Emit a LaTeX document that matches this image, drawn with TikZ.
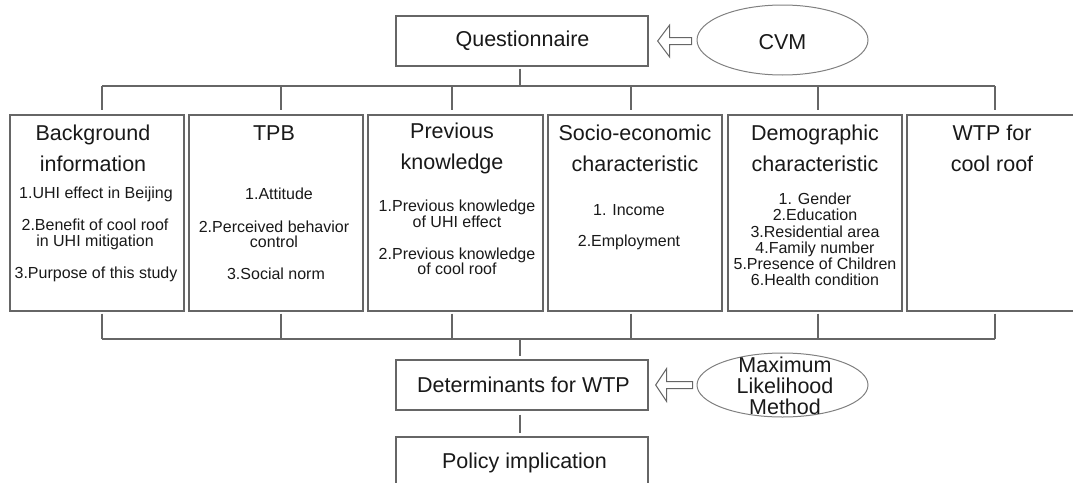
\documentclass[tikz,border=0pt]{standalone}
\usepackage{fontspec}
\setmainfont{Liberation Sans}
\usetikzlibrary{calc,shapes.geometric}
\definecolor{linegray}{gray}{0.40}
\definecolor{ovalgray}{gray}{0.50}
\definecolor{txt}{gray}{0.10}
\begin{document}
\begin{tikzpicture}[x=1pt,y=-1pt,
  frame/.style={draw=linegray, line width=1.3pt, fill=white, inner sep=0pt},
  oval/.style={ellipse, draw=ovalgray, line width=1pt, inner sep=0pt},
  bigtxt/.style={font=\fontsize{21.5}{31}\selectfont, align=center, text=txt, inner sep=0pt},
  lbl/.style={font=\fontsize{21.5}{24}\selectfont, align=center, text=txt, inner sep=0pt},
  smalltxt/.style={font=\fontsize{16}{15.5}\selectfont, align=center, text=txt, inner sep=0pt},
  wire/.style={draw=linegray, line width=1.3pt},
  hollow/.style={draw=linegray, line width=1pt, fill=white, line join=miter},
]
\useasboundingbox (0,0) rectangle (1073,482);

% top: questionnaire and CVM
\node[frame, minimum width=252pt, minimum height=50pt] (q) at (522,41) {};
\node[lbl] (qt) at (522.5,41) {Questionnaire};
\node[oval, minimum width=171pt, minimum height=70pt] (cvm) at (782.5,40) {};
\node[lbl] (cvmt) at (782.5,42) {CVM};

% six survey sections
\node[frame, minimum width=174pt, minimum height=196pt] (b1) at (97,213) {};
\node[frame, minimum width=174pt, minimum height=196pt] (b2) at (276,213) {};
\node[frame, minimum width=175pt, minimum height=196pt] (b3) at (455.5,213) {};
\node[frame, minimum width=174pt, minimum height=196pt] (b4) at (635,213) {};
\node[frame, minimum width=174pt, minimum height=196pt] (b5) at (815,213) {};
\node[frame, minimum width=174pt, minimum height=196pt] (b6) at (994,213) {};

\node[bigtxt] (h1) at (93,148.5) {Background\\information};
\node[bigtxt] (h2) at (274,133) {TPB};
\node[bigtxt] (h3) at (452,148.5) {Previous\\knowledge};
\node[bigtxt] (h4) at (635,148.5) {Socio-economic\\characteristic};
\node[bigtxt] (h5) at (815,148.5) {Demographic\\characteristic};
\node[bigtxt] (h6) at (992,148.5) {WTP for\\cool roof};

\node[smalltxt] (i11) at (96,194) {1.UHI effect in Beijing};
\node[smalltxt] (i12) at (95,234.5) {2.Benefit of cool roof\\in UHI mitigation};
\node[smalltxt] (i13) at (96,274) {3.Purpose of this study};

\node[smalltxt] (i21) at (279,194) {1.Attitude};
\node[smalltxt] (i22) at (274,234.5) {2.Perceived behavior\\control};
\node[smalltxt] (i23) at (276,274) {3.Social norm};

\node[smalltxt] (i31) at (457,214) {1.Previous knowledge\\of UHI effect};
\node[smalltxt] (i32) at (457,261.5) {2.Previous knowledge\\of cool roof};

\node[smalltxt] (i41) at (629,210) {1. Income};
\node[smalltxt] (i42) at (629,242) {2.Employment};

\node[smalltxt, font=\fontsize{16}{16.2}\selectfont] (i51) at (815,239.5)
  {1. Gender\\2.Education\\3.Residential area\\4.Family number\\5.Presence of Children\\6.Health condition};

% bottom: analysis and outcome
\node[frame, minimum width=252pt, minimum height=50pt] (det) at (522,385) {};
\node[lbl] (dett) at (523.5,385) {Determinants for WTP};
\node[frame, minimum width=252pt, minimum height=53pt] (pol) at (522,463.5) {};
\node[lbl] (polt) at (524.5,463) {Policy implication};
\node[oval, minimum width=171pt, minimum height=64pt] (mlm) at (782.5,385) {};
\node[font=\fontsize{21.5}{21}\selectfont, align=center, text=txt, inner sep=0pt] (mlmt) at (785,386)
  {Maximum\\Likelihood\\Method};

% bus from questionnaire to sections
\coordinate (u0) at (520,86);
\coordinate (u1) at (102,86);
\coordinate (u2) at (281,86);
\coordinate (u3) at (452,86);
\coordinate (u4) at (631,86);
\coordinate (u5) at (818,86);
\coordinate (u6) at (995,86);
\draw[wire, shorten <=2pt] (q.south -| u0) -- (u0);
\draw[wire] (u1) -- (u6);
\foreach \i in {1,...,6}
  \draw[wire, shorten >=4pt] (u\i) -- (u\i |- b\i.north);

% bus from sections to determinants
\coordinate (l0) at (520,339);
\coordinate (l1) at (102,339);
\coordinate (l2) at (281,339);
\coordinate (l3) at (452,339);
\coordinate (l4) at (631,339);
\coordinate (l5) at (818,339);
\coordinate (l6) at (995,339);
\foreach \i in {1,...,6}
  \draw[wire, shorten <=2pt] (l\i |- b\i.south) -- (l\i);
\draw[wire] (l1) -- (l6);
\draw[wire, shorten >=3pt] (l0) -- (l0 |- det.north);
\draw[wire, shorten <=4pt, shorten >=3pt] (det.south -| l0) -- (pol.north -| l0);

% hollow method arrows
\coordinate (a1) at ([xshift=9pt]q.east);
\draw[hollow] (a1) -- ++(12,-16) -- ++(0,12.5) -- ++(22,0) -- ++(0,7)
  -- ++(-22,0) -- ++(0,12.5) -- cycle;
\coordinate (a2) at ([xshift=7pt]det.east);
\draw[hollow] (a2) -- ++(11,-16.5) -- ++(0,13) -- ++(26,0) -- ++(0,7)
  -- ++(-26,0) -- ++(0,13) -- cycle;
\end{tikzpicture}
\end{document}
